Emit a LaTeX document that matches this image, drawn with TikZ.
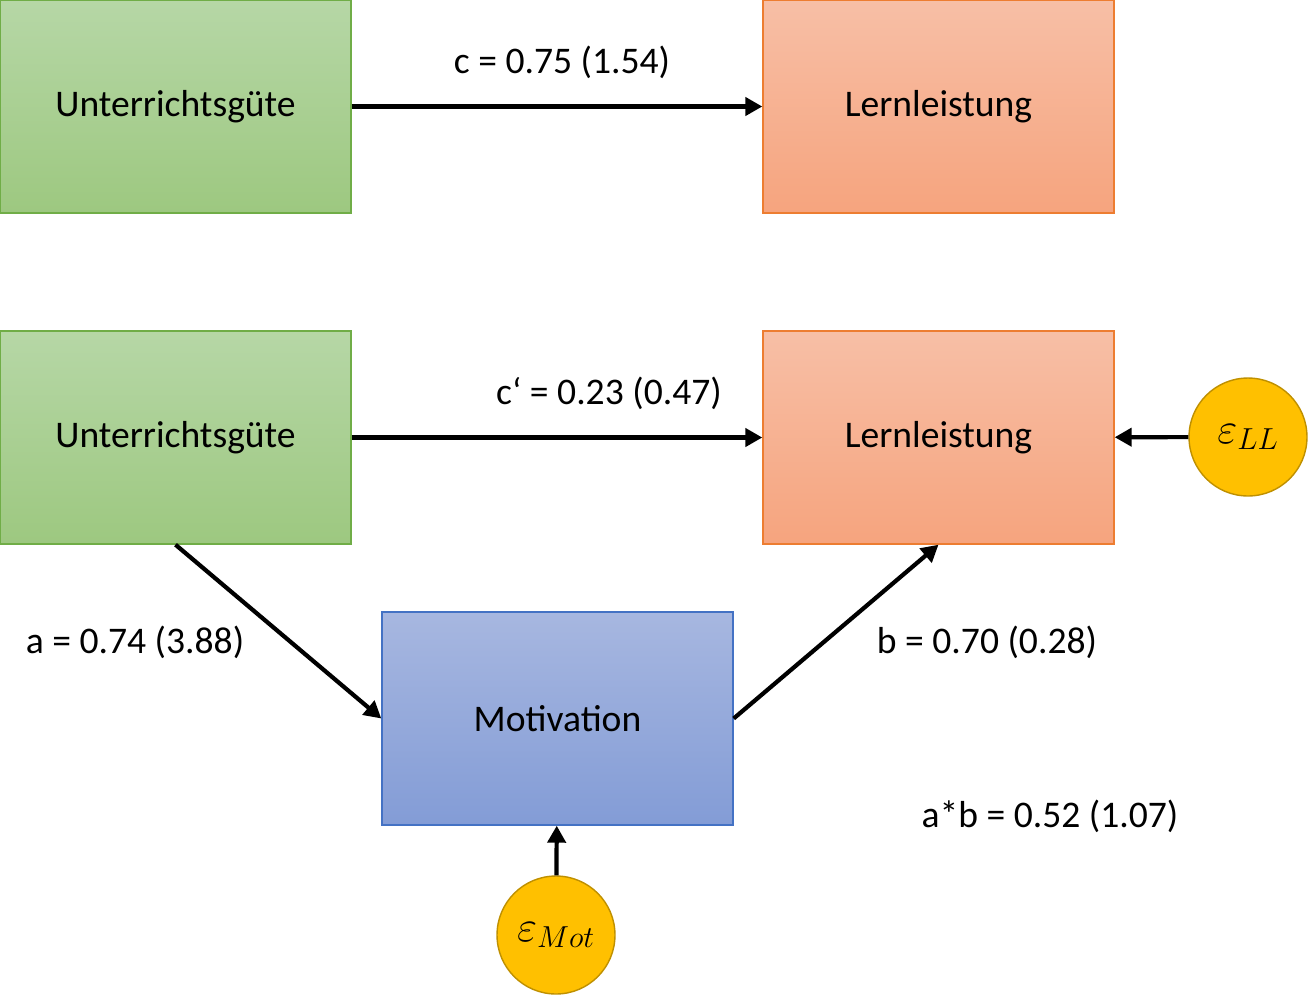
\documentclass[tikz,border=0pt]{standalone}
\usepackage{amsmath,amssymb}
\usepackage{fontspec}
\setmainfont{Carlito}
\usepackage{xcolor}
\usetikzlibrary{arrows.meta, shadings}

\definecolor{greenTop}{RGB}{182,215,166}
\definecolor{greenBot}{RGB}{157,200,128}
\definecolor{greenLine}{RGB}{112,173,71}
\definecolor{orangeTop}{RGB}{247,191,166}
\definecolor{orangeBot}{RGB}{246,164,126}
\definecolor{orangeLine}{RGB}{237,125,49}
\definecolor{blueTop}{RGB}{167,183,224}
\definecolor{blueBot}{RGB}{131,156,214}
\definecolor{blueLine}{RGB}{68,114,196}
\definecolor{errFill}{RGB}{255,192,0}
\definecolor{errLine}{RGB}{191,144,0}

\begin{document}
\begin{tikzpicture}[
        x=0.02cm, y=-0.02cm,
        box/.style={rectangle, draw=#1Line, line width=0.8pt,
                     top color=#1Top, bottom color=#1Bot,
                     minimum width=7.02cm, minimum height=4.26cm,
                     align=center, font=\fontsize{21.4}{25}\selectfont, text=black},
        err/.style={circle, draw=errLine, line width=0.8pt, fill=errFill,
                     minimum size=2.36cm, inner sep=0pt,
                     font=\fontsize{26}{30}\selectfont},
        arrow/.style={-{Triangle[length=0.34cm, width=0.36cm]}, line width=2.4pt},
        label/.style={font=\fontsize{21.4}{25}\selectfont, inner sep=0pt}
    ]
        \useasboundingbox (0,0) rectangle (1309,995);

        % Total effect
        \node[box=green] (ugTop) at (175.5,106.5) {Unterrichtsgüte};
        \node[box=orange] (llTop) at (938.5,106.5) {Lernleistung};

        % Mediation model
        \node[box=green] (ug) at (175.5,437.5) {Unterrichtsgüte};
        \node[box=orange] (ll) at (938.5,437.5) {Lernleistung};
        \node[box=blue] (mot) at (557.5,718.5) {Motivation};
        \node[err] (errLL) at (1248,437) {$\varepsilon_{LL}$};
        \node[err] (errMot) at (556,935) {$\varepsilon_{Mot}$};

        % Labels
        \node[label] (labC) at (562,62) {c = 0.75 (1.54)};
        \node[label] (labCp) at (609,393) {c‘ = 0.23 (0.47)};
        \node[label] (labA) at (135,642) {a = 0.74 (3.88)};
        \node[label] (labB) at (987,642) {b = 0.70 (0.28)};
        \node[label] (labAB) at (1050,816) {a*b = 0.52 (1.07)};

        % Arrows
        \draw[arrow] (ugTop) -- (llTop);
        \draw[arrow] (ug) -- (ll);
        \draw[arrow] (ug.south) -- (mot.west);
        \draw[arrow] (mot.east) -- (ll.south);
        \draw[arrow] (errLL) -- (ll);
        \draw[arrow] (errMot) -- (mot);
    \end{tikzpicture}
\end{document}
